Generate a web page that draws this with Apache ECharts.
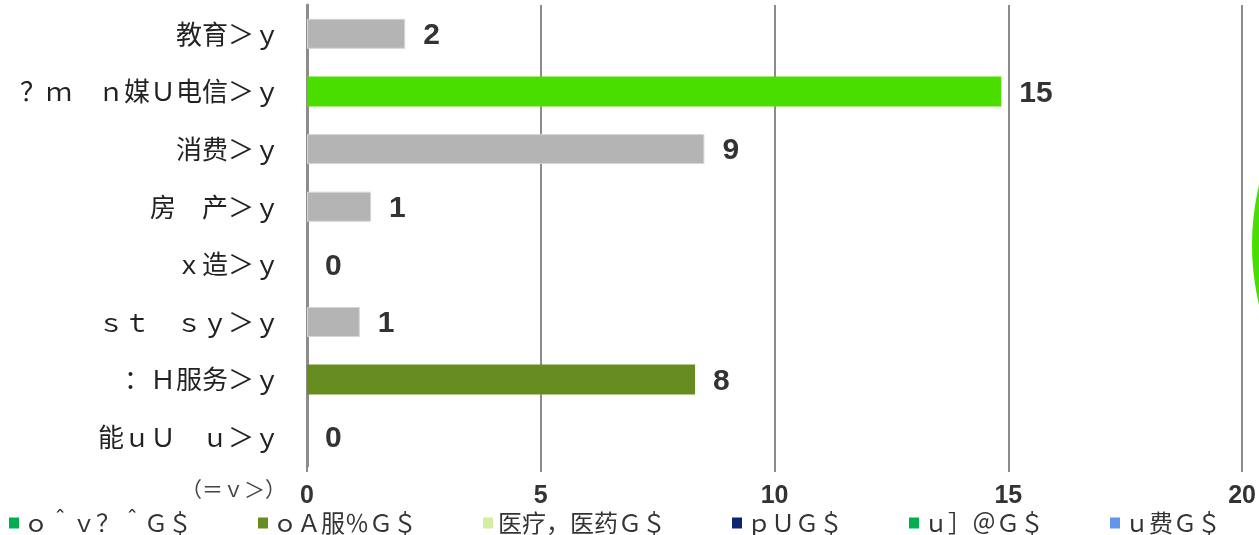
<!DOCTYPE html>
<html>
<head>
<meta charset="utf-8">
<script src="https://cdn.jsdelivr.net/npm/echarts@6/dist/echarts.min.js"></script>
<style>
  html, body { margin: 0; padding: 0; background: #fff; }
  #main { width: 1259px; height: 535px; }
</style>
</head>
<body>
<div id="main"></div>
<script>
// 行业分类（原图文字乱码，按原样保留）
const categories = ['教育＞ｙ', '？ｍ　ｎ媒Ｕ电信＞ｙ', '消费＞ｙ', '房　产＞ｙ', 'ｘ造＞ｙ', 'ｓｔ　ｓｙ＞ｙ', '：Ｈ服务＞ｙ', '能ｕＵ　ｕ＞ｙ'];
// 柱长（从图上量出）
const barValues = [2.1, 14.85, 8.5, 1.37, 0, 1.13, 8.3, 0];
// 柱旁数字
const barLabels = ['2', '15', '9', '1', '0', '1', '8', '0'];
const barColors = ['#b4b4b4', '#4ade00', '#b4b4b4', '#b4b4b4', '#b4b4b4', '#b4b4b4', '#678c1f', '#b4b4b4'];
// 图例
const legendNames = ['ｏ＾ｖ？＾Ｇ＄', 'ｏＡ服％Ｇ＄', '医疗，医药Ｇ＄', 'ｐＵＧ＄', 'ｕ］＠Ｇ＄', 'ｕ费Ｇ＄'];
const legendColors = ['#00b050', '#678c1f', '#d4eda0', '#0a2470', '#00b050', '#6495ed'];
// 右侧被裁掉的饼图
const pieValues = [1];

const FONT = 'Noto Sans CJK SC';
const NUMFONT = 'Liberation Sans';
const myChart = echarts.init(document.getElementById('main'));

const barData = barValues.map((v, i) => {
    const gray = barColors[i] === '#b4b4b4';
    return {
        value: v,
        itemStyle: {
            color: barColors[i],
            borderColor: gray ? '#d6d6d6' : barColors[i],
            borderWidth: v === 0 ? 0 : (gray ? 1 : 2)
        }
    };
});

const dummySeries = legendNames.map((n, i) => ({
    name: n,
    type: 'line',
    data: [],
    itemStyle: { color: legendColors[i] }
}));

const option = {
    animation: false,
    textStyle: { fontFamily: FONT },
    title: {
        text: '（＝ｖ＞）',
        left: 176,
        top: 474,
        textStyle: { fontSize: 21, fontWeight: 'normal', color: '#444', fontFamily: FONT }
    },
    legend: {
        data: legendNames,
        left: 4,
        top: 506,
        icon: 'rect',
        itemWidth: 10,
        itemHeight: 11,
        itemGap: 66,
        textStyle: { fontSize: 24, color: '#333', fontFamily: FONT }
    },
    grid: { left: 307, right: 16, top: 5, bottom: 69, containLabel: false },
    xAxis: {
        type: 'value',
        min: 0,
        max: 20,
        interval: 5,
        axisLine: { show: false },
        axisTick: { show: true, length: 6, lineStyle: { color: '#8c8c8c', width: 2 } },
        splitLine: { show: true, lineStyle: { color: '#8c8c8c', width: 2 } },
        axisLabel: { fontSize: 25, fontWeight: 'bold', color: '#333', margin: 18, fontFamily: NUMFONT }
    },
    yAxis: {
        type: 'category',
        inverse: true,
        data: categories,
        axisLine: { show: true, lineStyle: { color: '#8c8c8c', width: 3 } },
        axisTick: { show: false },
        axisLabel: { fontSize: 26, color: '#222', margin: 27, fontFamily: FONT }
    },
    series: [
        {
            name: '数量',
            type: 'bar',
            barWidth: 30,
            data: barData,
            label: {
                show: true,
                position: 'right',
                distance: 18,
                offset: [0, 2],
                formatter: p => barLabels[p.dataIndex],
                fontSize: 30,
                fontWeight: 'bold',
                color: '#333',
                fontFamily: NUMFONT
            },
            z: 3
        },
        {
            type: 'pie',
            silent: true,
            center: [1512, 245],
            radius: 260,
            label: { show: false },
            labelLine: { show: false },
            data: pieValues.map(v => ({ value: v, name: 'pie', itemStyle: { color: '#4ade00' } }))
        }
    ].concat(dummySeries)
};

myChart.setOption(option);
</script>
</body>
</html>
